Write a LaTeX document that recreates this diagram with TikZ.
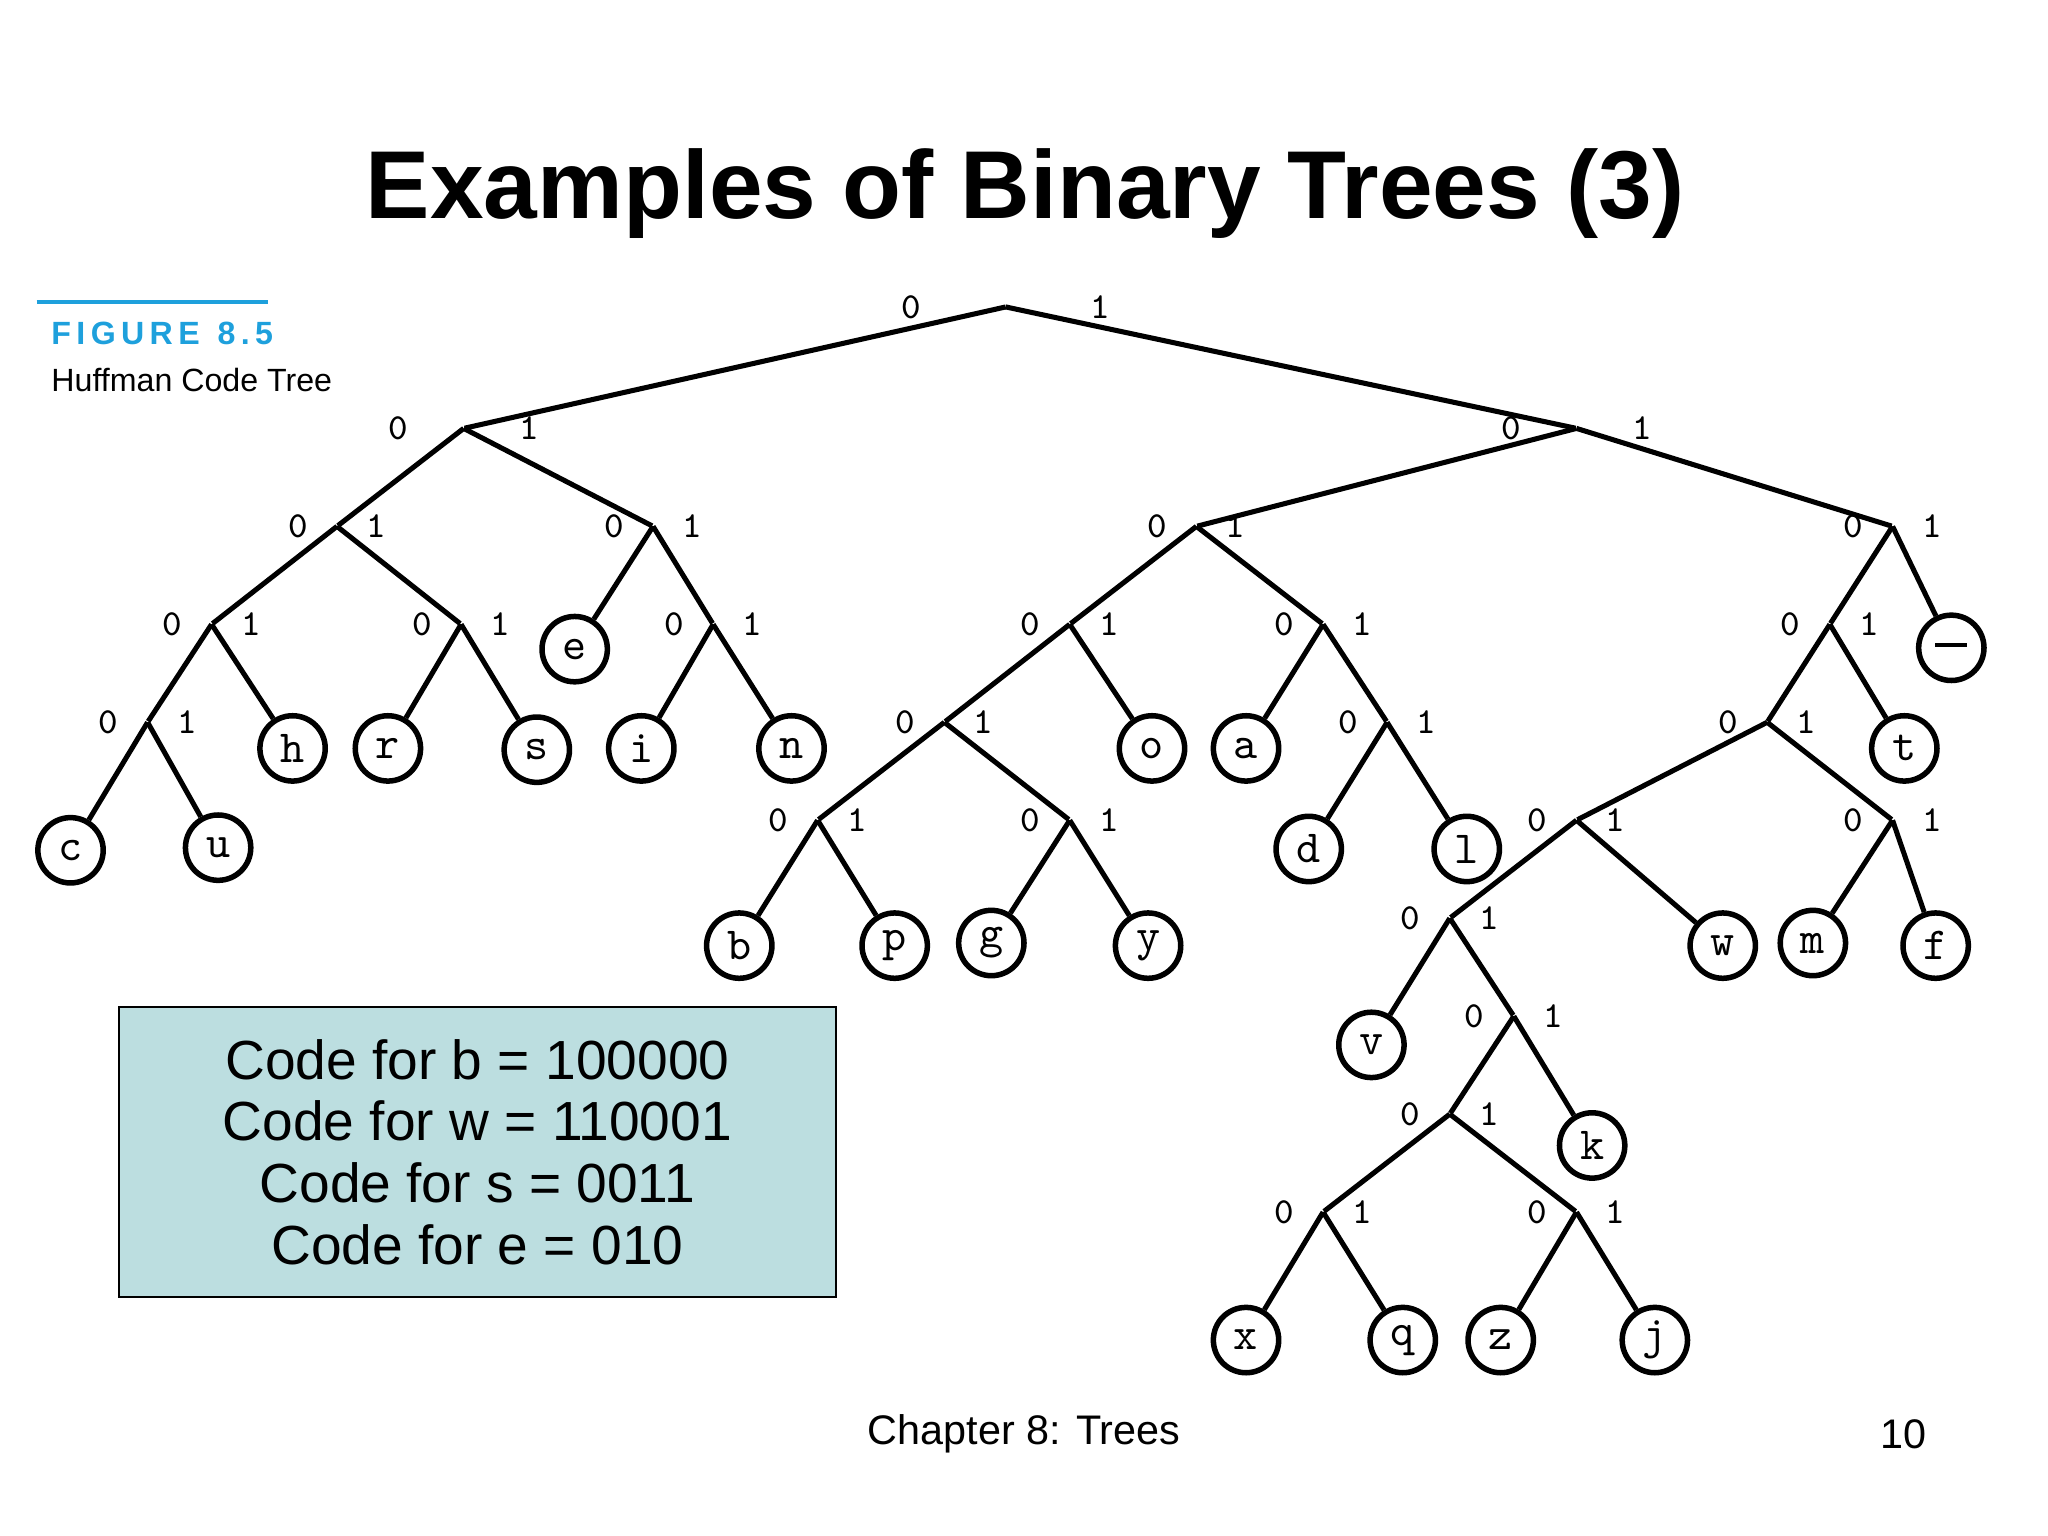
\documentclass[tikz,border=0pt]{standalone}
\usepackage{fontspec}
\setmainfont{Liberation Sans}
\usetikzlibrary{positioning}
\definecolor{boxfill}{RGB}{188,222,224}
\definecolor{figblue}{RGB}{30,160,220}

\begin{document}
\begin{tikzpicture}[
    x={(0.01cm,0)}, y={(0,-0.01cm)},
    leaf/.style={
        circle,
        draw=black,
        line width=1.2pt,
        minimum size=0.5cm,
        inner sep=0pt,
        font=\ttfamily,
    },
    split/.style={
        inner sep=0pt,
        minimum size=0pt,
    },
    bit/.style={
        font=\ttfamily\footnotesize,
        inner sep=0pt,
    },
    edge/.style={
        line width=1.1pt,
    },
]
\useasboundingbox (0,0) rectangle (1568,1176);

% === Title ===
\node[font=\bfseries\fontsize{21}{25}\selectfont] (title) at (785,148) {Examples of Binary Trees (3)};

% === Figure caption ===
\draw[figblue, line width=0.8pt] (28,231) -- (205,231);
\node[anchor=west, font=\bfseries\scriptsize, text=figblue] (fig) at (27,255) {F\,I\,G\,U\,R\,E\ \ 8\,.\,5};
\node[anchor=west, font=\scriptsize] (figdesc) at (27,291) {Huffman Code Tree};

% === Internal points ===
\node[split] (root) at (770,235) {};
\node[split] (n0) at (355,328) {};
\node[split] (n1) at (1207,328) {};
\node[split] (n00) at (258,403) {};
\node[split] (n01) at (500,403) {};
\node[split] (n000) at (162,478) {};
\node[split] (n001) at (353,478) {};
\node[split] (n0000) at (113,553) {};
\node[split] (n011) at (546,478) {};
\node[split] (n10) at (916,403) {};
\node[split] (n11) at (1449,403) {};
\node[split] (n100) at (819,478) {};
\node[split] (n101) at (1013,478) {};
\node[split] (n1000) at (723,553) {};
\node[split] (n10000) at (626,628) {};
\node[split] (n10001) at (819,628) {};
\node[split] (n1011) at (1062,553) {};
\node[split] (n110) at (1401,478) {};
\node[split] (n1100) at (1353,553) {};
\node[split] (n11000) at (1207,628) {};
\node[split] (n11001) at (1449,628) {};
\node[split] (n110000) at (1110,703) {};
\node[split] (n1100001) at (1159,778) {};
\node[split] (n11000010) at (1110,853) {};
\node[split] (n110000100) at (1013,928) {};
\node[split] (n110000101) at (1207,928) {};

% === Leaves ===
\node[leaf] (c) at (54,651) {c};
\node[leaf] (u) at (167,649) {u};
\node[leaf] (h) at (224,573) {h};
\node[leaf] (r) at (297,573) {r};
\node[leaf] (s) at (411,574) {s};
\node[leaf] (e) at (440,497) {e};
\node[leaf] (i) at (491,573) {i};
\node[leaf] (n) at (606,573) {n};
\node[leaf] (b) at (566,724) {b};
\node[leaf] (p) at (685,724) {p};
\node[leaf] (g) at (759,722) {g};
\node[leaf] (y) at (879,724) {y};
\node[leaf] (o) at (882,573) {o};
\node[leaf] (a) at (954,573) {a};
\node[leaf] (d) at (1002,650) {d};
\node[leaf] (l) at (1123,650) {l};
\node[leaf] (sp) at (1494,496) {\rule[0.3ex]{0.7em}{1pt}};
\node[leaf] (t) at (1458,573) {t};
\node[leaf] (w) at (1319,724) {w};
\node[leaf] (m) at (1388,722) {m};
\node[leaf] (f) at (1482,724) {f};
\node[leaf] (v) at (1050,800) {v};
\node[leaf] (k) at (1219,877) {k};
\node[leaf] (x) at (954,1026) {x};
\node[leaf] (q) at (1074,1026) {q};
\node[leaf] (z) at (1149,1026) {z};
\node[leaf] (j) at (1267,1026) {j};

% === Edges: parent / left / right / bit spread ===
\foreach \p/\l/\r/\d in {root/n0/n1/0.72, n0/n00/n01/0.5, n00/n000/n001/0.3, n000/n0000/h/0.3,
    n0000/c/u/0.3, n001/r/s/0.3, n01/e/n011/0.3, n011/i/n/0.3, n1/n10/n11/0.5, n10/n100/n101/0.3,
    n100/n1000/o/0.3, n1000/n10000/n10001/0.3, n10000/b/p/0.3, n10001/g/y/0.3, n101/a/n1011/0.3,
    n1011/d/l/0.3, n11/n110/sp/0.3, n110/n1100/t/0.3, n1100/n11000/n11001/0.3,
    n11000/n110000/w/0.3, n11001/m/f/0.3, n110000/v/n1100001/0.3,
    n1100001/n11000010/k/0.3, n11000010/n110000100/n110000101/0.3,
    n110000100/x/q/0.3, n110000101/z/j/0.3} {
    \draw[edge] (\p.center) -- (\l);
    \draw[edge] (\p.center) -- (\r);
    \node[bit] at ([xshift=-\d cm]\p.center) {0};
    \node[bit] at ([xshift=\d cm]\p.center) {1};
}

% === Code box ===
\node[draw=black, fill=boxfill, minimum width=5.49cm, minimum height=2.22cm,
    align=center, font=\fontsize{12}{13.4}\selectfont] (codes) at (365.5,882) {
    Code for b = 100000\\
    Code for w = 110001\\
    Code for s = 0011\\
    Code for e = 010
};

% === Footer ===
\node[font=\small] (chapter) at (784,1098) {Chapter 8: Trees};
\node[font=\small] (page) at (1457,1098) {10};

\end{tikzpicture}
\end{document}
